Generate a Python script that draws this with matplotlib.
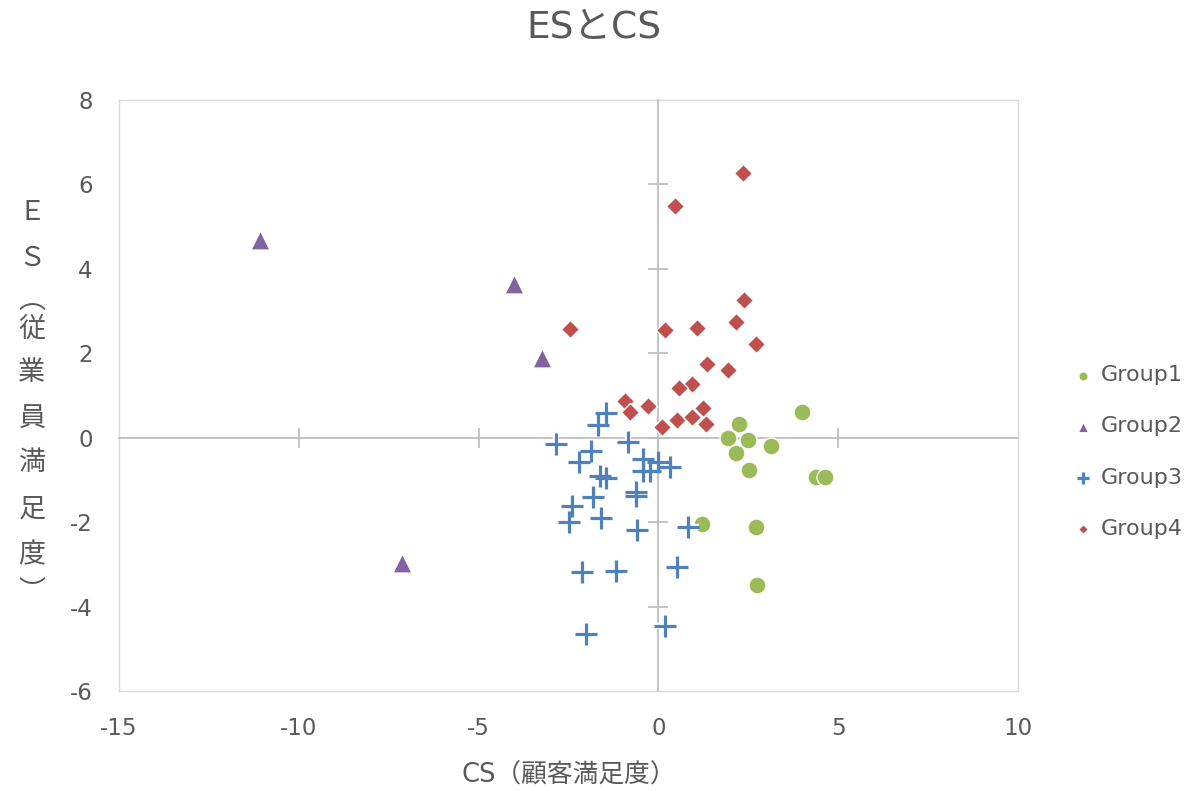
import matplotlib
matplotlib.use("Agg")
import matplotlib.pyplot as plt

plt.rcParams['font.family'] = ['DejaVu Sans', 'Noto Sans CJK JP']
plt.rcParams['axes.unicode_minus'] = False

title = "ESとCS"
x_label = "CS（顧客満足度）"
y_label_chars = ["Ｅ", "Ｓ", "︵", "従", "業", "員", "満", "足", "度", "︶"]
series_names = ["Group1", "Group2", "Group3", "Group4"]

g1_x = [4.00, 2.25, 1.94, 2.50, 3.13, 2.15, 2.53, 4.38, 4.63, 1.20, 2.71, 2.73]
g1_y = [0.60, 0.32, -0.01, -0.05, -0.19, -0.37, -0.76, -0.94, -0.94, -2.04, -2.12, -3.49]

g2_x = [-11.08, -4.02, -3.24, -7.13]
g2_y = [4.69, 3.64, 1.90, -2.96]

g3_x = [-1.46, -1.67, -2.85, -0.85, -1.87, -2.20, -0.44, 0.00, 0.32, -0.23, -0.42,
        -1.62, -1.46, -0.62, -0.62, -1.81, -2.41, -2.49, -1.60, -0.60, 0.83,
        -2.12, -1.18, 0.51, -2.01, 0.18]
g3_y = [0.58, 0.30, -0.15, -0.11, -0.31, -0.57, -0.51, -0.57, -0.70, -0.78, -0.80,
        -0.90, -0.96, -1.28, -1.38, -1.40, -1.62, -1.99, -1.91, -2.18, -2.11,
        -3.17, -3.15, -3.07, -4.66, -4.45]

g4_x = [2.34, 0.46, 2.39, -2.46, 0.18, 1.06, 2.15, 2.71, 1.34, 1.94, 0.93, 0.57,
        -0.93, -0.79, -0.28, 0.09, 0.51, 0.93, 1.25, 1.31]
g4_y = [6.28, 5.50, 3.27, 2.57, 2.54, 2.61, 2.73, 2.22, 1.74, 1.61, 1.27, 1.17,
        0.86, 0.60, 0.76, 0.26, 0.42, 0.50, 0.70, 0.32]

x_ticks = [-15, -10, -5, 0, 5, 10]
y_ticks = [-6, -4, -2, 0, 2, 4, 6, 8]
x_cross_ticks = [-10, -5, 0, 5]
y_cross_ticks = [-4, -2, 0, 2, 4, 6]
x_lim = (-15, 10)
y_lim = (-6, 8)

c_green = "#9BBB59"
c_purple = "#8064A2"
c_blue = "#4F81BD"
c_red = "#C0504D"
c_text = "#595959"

W, H = 1187, 791
fig = plt.figure(figsize=(W / 100, H / 100), dpi=100)
rect = [119 / W, 1 - 691 / H, (1018 - 119) / W, (691 - 100) / H]

# frame + tick labels
ax2 = fig.add_axes(rect)
ax2.set_xlim(*x_lim)
ax2.set_ylim(*y_lim)
ax2.set_xticks(x_ticks)
ax2.set_yticks(y_ticks)
for s in ax2.spines.values():
    s.set_color("#D9D9D9")
    s.set_linewidth(1.0)
ax2.tick_params(length=0, labelsize=16.5, labelcolor=c_text, pad=19)
ax2.set_xlabel(x_label, fontsize=18.5, color=c_text, labelpad=16)

# data axes with crossing axis lines
ax = fig.add_axes(rect)
ax.patch.set_visible(False)
ax.set_xlim(*x_lim)
ax.set_ylim(*y_lim)
ax.spines['left'].set_position(('data', 0))
ax.spines['bottom'].set_position(('data', 0))
ax.spines['right'].set_visible(False)
ax.spines['top'].set_visible(False)
for k in ('left', 'bottom'):
    ax.spines[k].set_color("#BFBFBF")
    ax.spines[k].set_linewidth(1.3)
ax.set_xticks(x_cross_ticks)
ax.set_yticks(y_cross_ticks)
ax.tick_params(direction='inout', length=15, width=1.3, color="#BFBFBF",
               labelbottom=False, labelleft=False)

ax.scatter(g1_x, g1_y, s=150, marker='o', color=c_green, edgecolors='white',
           linewidths=1.0, label=series_names[0], zorder=3)
ax.scatter(g2_x, g2_y, s=190, marker='^', color=c_purple, edgecolors='white',
           linewidths=1.0, label=series_names[1], zorder=3)
ax.scatter(g3_x, g3_y, s=230, marker='+', color='white', linewidths=4.5,
           label='_nolegend_', zorder=3)
ax.scatter(g3_x, g3_y, s=230, marker='+', color=c_blue, linewidths=2.3,
           label=series_names[2], zorder=3)
ax.scatter(g4_x, g4_y, s=85, marker='D', color=c_red, edgecolors='white',
           linewidths=1.0, label=series_names[3], zorder=3)

fig.text(0.5, 1 - 28 / H, title, ha='center', va='center', fontsize=27, color=c_text)

y_pos = [212, 258, 300, 329, 373, 418, 463, 509, 555, 593]
for ch, yp in zip(y_label_chars, y_pos):
    fig.text(32 / W, 1 - yp / H, ch, ha='center', va='center', fontsize=19.5,
             color=c_text, family=['Noto Sans CJK JP', 'DejaVu Sans'])

handles, labels = ax.get_legend_handles_labels()
leg = fig.legend(handles, labels, loc='center left',
                 bbox_to_anchor=(1071 / W, 1 - 452 / H), frameon=False,
                 fontsize=16, labelcolor=c_text, markerscale=0.55,
                 labelspacing=1.4, handletextpad=0.25, handlelength=1.1,
                 borderpad=0, borderaxespad=0)

fig.savefig("out.png", dpi=100)
